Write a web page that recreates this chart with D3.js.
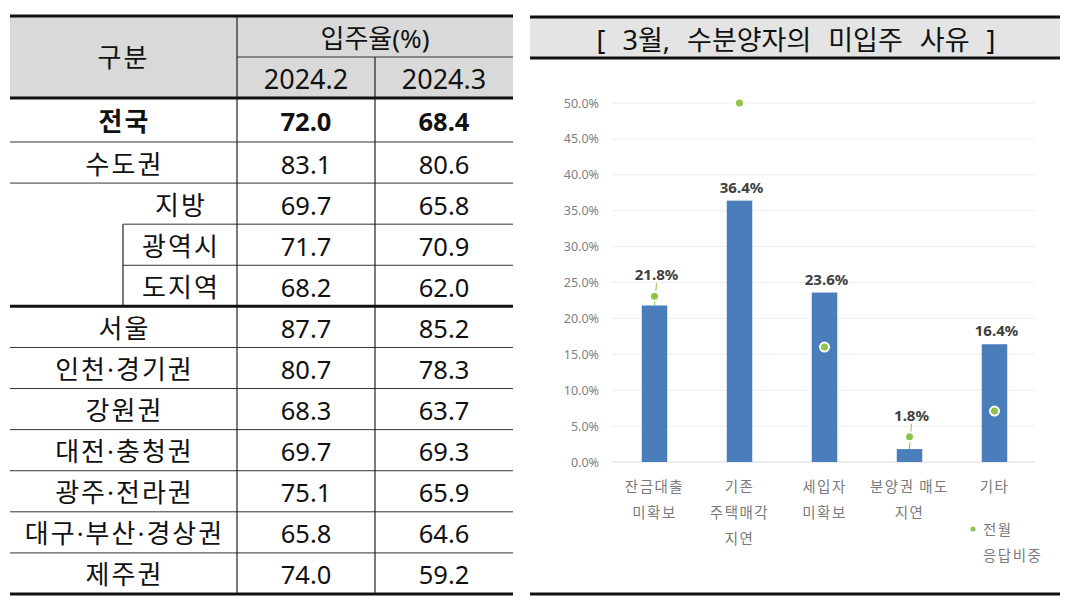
<!DOCTYPE html>
<html>
<head>
<meta charset="utf-8">
<script src="https://cdn.jsdelivr.net/npm/d3@7"></script>
<style>
  body { margin: 0; background: #fff; }
  svg { display: block; }
</style>
</head>
<body>
<svg id="chart" width="1067" height="604"></svg>
<script>
// table data
let regions = ["전국", "수도권", "지방", "광역시", "도지역", "서울", "인천·경기권", "강원권",
               "대전·충청권", "광주·전라권", "대구·부산·경상권", "제주권"]
let indent = [0, 0, 1, 1, 1, 0, 0, 0, 0, 0, 0, 0]
let rateFeb = [72.0, 83.1, 69.7, 71.7, 68.2, 87.7, 80.7, 68.3, 69.7, 75.1, 65.8, 74.0]
let rateMar = [68.4, 80.6, 65.8, 70.9, 62.0, 85.2, 78.3, 63.7, 69.3, 65.9, 64.6, 59.2]
let months = ["2024.2", "2024.3"]

// chart data
let reasons = [["잔금대출", "미확보"], ["기존", "주택매각", "지연"], ["세입자", "미확보"],
               ["분양권 매도", "지연"], ["기타"]]
let shareMar = [21.8, 36.4, 23.6, 1.8, 16.4]
let sharePrev = [23.1, 50.0, 16.0, 3.5, 7.1]
let yTicks = [0, 5, 10, 15, 20, 25, 30, 35, 40, 45, 50]

let svg = d3.select("#chart")
let font = "'Noto Sans', 'Noto Sans CJK KR', sans-serif"
let cjk = "'Noto Sans CJK KR', 'Noto Sans', sans-serif"

// ---------- left: table ----------
let t = svg.append("g")
let L = 10, C1 = 237, C2 = 375, R = 513, Cin = 123

// row tops: first data row a little taller, then even rows down to 594
let rowY = d3.scaleLinear().domain([1, regions.length]).range([142, 594])
function rowTop(i) { return i == 0 ? 98 : rowY(i) }
function rowBottom(i) { return rowY(i + 1) }

t.append("rect").attr("x", L).attr("y", 16).attr("width", R - L).attr("height", 82)
    .attr("fill", "#d9d9d9")

// thin horizontal lines between rows
for (let i = 1; i < regions.length; i++) {
    if (i == 5) continue
    let x0 = (i == 3 || i == 4) ? Cin : L
    t.append("line").attr("x1", x0).attr("x2", R)
        .attr("y1", rowTop(i)).attr("y2", rowTop(i))
        .attr("stroke", "#333").attr("stroke-width", 1)
}
t.append("line").attr("x1", C1).attr("x2", R).attr("y1", 57).attr("y2", 57)
    .attr("stroke", "#333").attr("stroke-width", 1)

// vertical lines
t.append("line").attr("x1", C1).attr("x2", C1).attr("y1", 16).attr("y2", 594)
    .attr("stroke", "#222").attr("stroke-width", 1.2)
t.append("line").attr("x1", C2).attr("x2", C2).attr("y1", 57).attr("y2", 594)
    .attr("stroke", "#222").attr("stroke-width", 1.2)
t.append("line").attr("x1", Cin).attr("x2", Cin).attr("y1", rowTop(3)).attr("y2", rowTop(5))
    .attr("stroke", "#222").attr("stroke-width", 1.2)

// thick lines
;[16, 98, rowTop(5), 594].forEach(function (y) {
    t.append("line").attr("x1", L).attr("x2", R).attr("y1", y).attr("y2", y)
        .attr("stroke", "#111").attr("stroke-width", 3)
})

function tText(x, y, s, opts) {
    opts = opts || {}
    return t.append("text").attr("x", x).attr("y", y)
        .attr("text-anchor", "middle").attr("dominant-baseline", "central")
        .style("font-family", font).style("font-size", (opts.size || 25.5) + "px")
        .style("letter-spacing", (opts.ls || 0) + "px")
        .style("font-weight", opts.bold ? "bold" : "normal")
        .attr("fill", "#111").text(s)
}
tText((L + C1) / 2, 57, "구분", { size: 26, ls: 2 })
tText((C1 + R) / 2, 38, "입주율(%)", { size: 26 })
tText((C1 + C2) / 2, 78, months[0], { size: 27 })
tText((C2 + R) / 2, 78, months[1], { size: 27 })

regions.forEach(function (name, i) {
    let cy = (rowTop(i) + rowBottom(i)) / 2 + 1
    let cx = indent[i] ? (Cin + C1) / 2 : (L + C1) / 2
    let bold = i == 0
    tText(cx + 1, cy, name, { bold: bold, size: 26, ls: 2 })
    tText((C1 + C2) / 2, cy, rateFeb[i].toFixed(1), { bold: bold })
    tText((C2 + R) / 2, cy, rateMar[i].toFixed(1), { bold: bold })
})

// ---------- right: bar chart ----------
let c = svg.append("g")
let PL = 530, PR = 1060

c.append("rect").attr("x", PL).attr("y", 17).attr("width", PR - PL).attr("height", 41)
    .attr("fill", "#e4e4e4")
;[17, 58, 594].forEach(function (y) {
    c.append("line").attr("x1", PL).attr("x2", PR).attr("y1", y).attr("y2", y)
        .attr("stroke", "#111").attr("stroke-width", 3)
})
c.append("text").attr("x", 796).attr("y", 39)
    .attr("text-anchor", "middle").attr("dominant-baseline", "central")
    .style("font-family", font).style("font-size", "27px").style("word-spacing", "10px")
    .attr("fill", "#111")
    .text("[ 3월, 수분양자의 미입주 사유 ]")

let y = d3.scaleLinear().domain([0, 50]).range([462, 103])
let x = d3.scaleBand().domain(d3.range(reasons.length)).range([612, 1037])
    .paddingInner(0.7).paddingOuter(0.35)

// gridlines
c.append("g").selectAll("line").data(yTicks.slice(1)).enter().append("line")
    .attr("x1", 612).attr("x2", 1035)
    .attr("y1", function (d) { return y(d) }).attr("y2", function (d) { return y(d) })
    .attr("stroke", "#ededed").attr("stroke-width", 1)

// y axis
let yAxis = c.append("g").attr("transform", "translate(599,0)")
    .call(d3.axisLeft(y).tickValues(yTicks).tickSize(0).tickPadding(0)
        .tickFormat(function (d) { return d.toFixed(1) + "%" }))
yAxis.select(".domain").remove()
yAxis.selectAll("text").style("font-family", "'Noto Sans', sans-serif")
    .style("font-size", "12.5px").attr("fill", "#7f7f7f")

// x axis base line
c.append("line").attr("x1", 612).attr("x2", 1035).attr("y1", y(0)).attr("y2", y(0))
    .attr("stroke", "#d9d9d9").attr("stroke-width", 1.2)

// bars
c.append("g").selectAll("rect").data(shareMar).enter().append("rect")
    .attr("x", function (d, i) { return x(i) })
    .attr("width", x.bandwidth())
    .attr("y", function (d) { return y(d) })
    .attr("height", function (d) { return y(0) - y(d) })
    .attr("fill", "#4a7ebb")

// label position: lift above the previous-month dot when it sits just over the bar
function near(i) { return sharePrev[i] > shareMar[i] && sharePrev[i] - shareMar[i] < 5 }
function labelY(i) { return near(i) ? y(sharePrev[i]) - 16 : y(shareMar[i]) - 8 }

// leader lines
c.append("g").selectAll("line").data(d3.range(reasons.length).filter(near)).enter().append("line")
    .attr("x1", function (i) { return x(i) + x.bandwidth() / 2 })
    .attr("x2", function (i) { return x(i) + x.bandwidth() / 2 + 2 })
    .attr("y1", function (i) { return y(shareMar[i]) })
    .attr("y2", function (i) { return labelY(i) + 3 })
    .attr("stroke", "#8fc34a").attr("stroke-width", 1)

// previous-month dots
c.append("g").selectAll("circle").data(sharePrev).enter().append("circle")
    .attr("cx", function (d, i) { return x(i) + x.bandwidth() / 2 })
    .attr("cy", function (d) { return y(d) })
    .attr("r", 4.5)
    .attr("fill", "#8fc34a").attr("stroke", "#fff").attr("stroke-width", 2)

// value labels
c.append("g").selectAll("text").data(shareMar).enter().append("text")
    .attr("x", function (d, i) { return x(i) + x.bandwidth() / 2 + 2 })
    .attr("y", function (d, i) { return labelY(i) })
    .attr("text-anchor", "middle")
    .style("font-family", "'Noto Sans', sans-serif").style("font-size", "15px")
    .style("font-weight", "bold").attr("fill", "#404040")
    .text(function (d) { return d.toFixed(1) + "%" })

// category labels
reasons.forEach(function (lines, i) {
    let txt = c.append("text")
        .attr("x", x(i) + x.bandwidth() / 2).attr("y", 492)
        .attr("text-anchor", "middle")
        .style("font-family", cjk).style("font-size", "14.5px")
        .style("letter-spacing", "1.5px").attr("fill", "#7a7a7a")
    lines.forEach(function (s, k) {
        txt.append("tspan").attr("x", x(i) + x.bandwidth() / 2).attr("dy", k == 0 ? 0 : 26).text(s)
    })
})

// legend
c.append("circle").attr("cx", 973).attr("cy", 529).attr("r", 2.5).attr("fill", "#8fc34a")
let lg = c.append("text").attr("x", 983).attr("y", 535)
    .style("font-family", cjk).style("font-size", "14.5px")
    .style("letter-spacing", "1.5px").attr("fill", "#7a7a7a")
lg.append("tspan").attr("x", 983).text("전월")
lg.append("tspan").attr("x", 983).attr("dy", 26).text("응답비중")
</script>
</body>
</html>
